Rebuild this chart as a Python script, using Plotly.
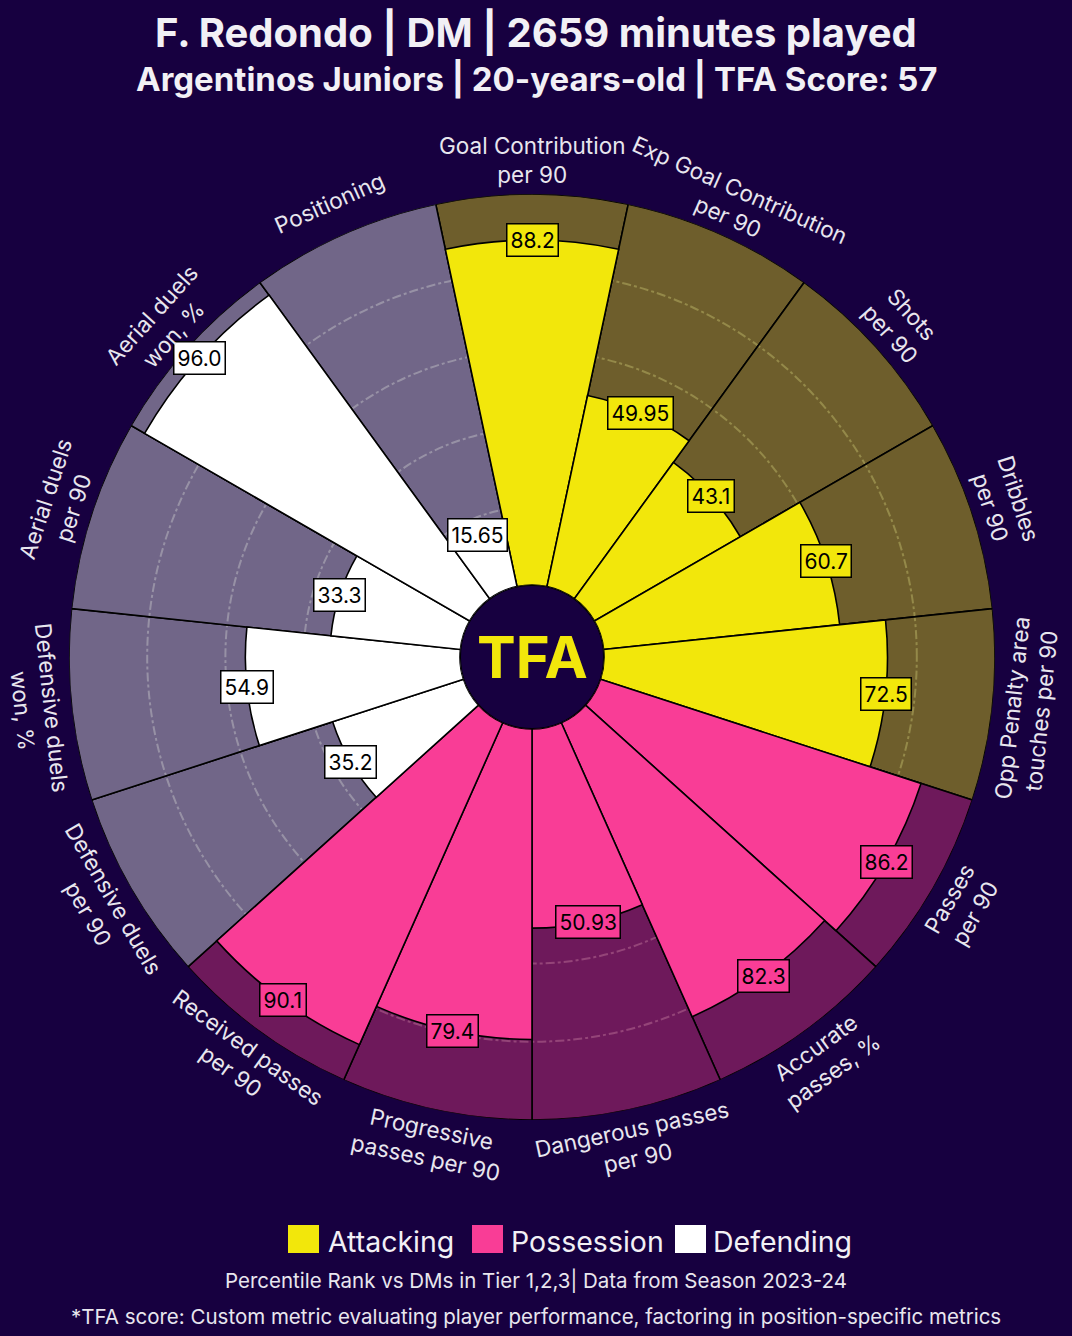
import math
import plotly.graph_objects as go

# ---------------- data ----------------
params = ["Goal Contribution per 90", "Exp Goal Contribution per 90", "Shots per 90",
          "Dribbles per 90", "Opp Penalty area touches per 90", "Passes per 90",
          "Accurate passes, %", "Dangerous passes per 90", "Progressive passes per 90",
          "Received passes per 90", "Defensive duels per 90", "Defensive duels won, %",
          "Aerial duels per 90", "Aerial duels won, %", "Positioning"]
display_labels = ["Goal Contribution<br>per 90", "Exp Goal Contribution<br>per 90", "Shots<br>per 90",
                  "Dribbles<br>per 90", "Opp Penalty area<br>touches per 90", "Passes<br>per 90",
                  "Accurate<br>passes, %", "Dangerous passes<br>per 90", "Progressive<br>passes per 90",
                  "Received passes<br>per 90", "Defensive duels<br>per 90", "Defensive duels<br>won, %",
                  "Aerial duels<br>per 90", "Aerial duels<br>won, %", "Positioning"]
values = [88.2, 49.95, 43.1, 60.7, 72.5, 86.2, 82.3, 50.93, 79.4, 90.1, 35.2, 54.9, 33.3, 96.0, 15.65]
value_labels = ["88.2", "49.95", "43.1", "60.7", "72.5", "86.2", "82.3", "50.93", "79.4", "90.1",
                "35.2", "54.9", "33.3", "96.0", "15.65"]
groups = ["Attacking"] * 5 + ["Possession"] * 5 + ["Defending"] * 5
group_names = ["Attacking", "Possession", "Defending"]
max_value = 100

# ---------------- style ----------------
W, H = 1072, 1336
BG = "#170040"
bar_colors = {"Attacking": "#f2e70b", "Possession": "#f93d96", "Defending": "#ffffff"}
# background slices: semi-transparent so the dash-dot grid shows through faintly
slice_colors = {"Attacking": "rgba(135,121,38,0.78)",
                "Possession": "rgba(135,32,99,0.78)",
                "Defending": "rgba(138,131,156,0.78)"}

cx_px, cy_px, R_px = 532, 657, 463
hole_px = 72
hole = hole_px / R_px

dom_x = [(cx_px - R_px) / W, (cx_px + R_px) / W]
dom_y = [1 - (cy_px + R_px) / H, 1 - (cy_px - R_px) / H]

FONT = "Inter"

fig = go.Figure()

# background slices
for g in group_names:
    idx = [i for i, gg in enumerate(groups) if gg == g]
    fig.add_trace(go.Barpolar(
        r=[max_value] * len(idx), theta=[params[i] for i in idx],
        marker=dict(color=slice_colors[g], line=dict(color="black", width=1.6)),
        showlegend=False, hoverinfo="skip"))

# value bars
for g in group_names:
    idx = [i for i, gg in enumerate(groups) if gg == g]
    fig.add_trace(go.Barpolar(
        r=[values[i] for i in idx], theta=[params[i] for i in idx], name=g,
        marker=dict(color=bar_colors[g], line=dict(color="black", width=1.6)),
        showlegend=False))

n = len(params)
step = 360 / n

def to_paper(r_px, ang):
    a = math.radians(ang)
    x = cx_px + r_px * math.sin(a)
    y = cy_px - r_px * math.cos(a)
    return x / W, 1 - y / H

annotations = []
# value boxes
for i, (v, t, g) in enumerate(zip(values, value_labels, groups)):
    r = hole_px + v / max_value * (R_px - hole_px)
    x, y = to_paper(r, i * step)
    annotations.append(dict(x=x, y=y, xref="paper", yref="paper", text=t, showarrow=False,
                            font=dict(family=FONT, size=21, color="black"),
                            bgcolor=bar_colors[g], bordercolor="black", borderwidth=1.5,
                            borderpad=3, xanchor="center", yanchor="middle"))
# parameter labels
for i, lab in enumerate(display_labels):
    ang = i * step
    x, y = to_paper(R_px + 34, ang)
    if 90 < ang < 270:
        ta = ang - 180
    elif ang >= 270:
        ta = ang - 360
    else:
        ta = ang
    annotations.append(dict(x=x, y=y, xref="paper", yref="paper", text=lab, showarrow=False,
                            textangle=ta, font=dict(family=FONT, size=22.5, color="#e8e6ee"),
                            xanchor="center", yanchor="middle"))

# center logo
annotations.append(dict(x=cx_px / W, y=1 - cy_px / H, xref="paper", yref="paper", text="<b>TFA</b>",
                        showarrow=False, font=dict(family=FONT, size=58, color="#f2e70b"),
                        xanchor="center", yanchor="middle"))

# titles
annotations.append(dict(x=0.5, y=1 - 33 / H, xref="paper", yref="paper",
                        text="<b>F. Redondo | DM | 2659 minutes played</b>", showarrow=False,
                        font=dict(family=FONT, size=40, color="#f2f0f5"), xanchor="center", yanchor="middle"))
annotations.append(dict(x=0.5, y=1 - 79 / H, xref="paper", yref="paper",
                        text="<b>Argentinos Juniors | 20-years-old | TFA Score: 57</b>", showarrow=False,
                        font=dict(family=FONT, size=33, color="#f2f0f5"), xanchor="center", yanchor="middle"))

# legend
legend_items = [("Attacking", 288, 326), ("Possession", 472, 509), ("Defending", 675, 711)]
shapes = []
for name, sx, tx in legend_items:
    shapes.append(dict(type="rect", xref="paper", yref="paper", x0=sx / W, x1=(sx + 31) / W,
                       y0=1 - 1253 / H, y1=1 - 1225 / H, fillcolor=bar_colors[name], line=dict(width=0)))
    annotations.append(dict(x=tx / W, y=1 - 1241 / H, xref="paper", yref="paper", text=name,
                            showarrow=False, font=dict(family=FONT, size=28.5, color="#f2f0f5"),
                            xanchor="left", yanchor="middle"))

annotations.append(dict(x=0.5, y=1 - 1280 / H, xref="paper", yref="paper",
                        text="Percentile Rank vs DMs in Tier 1,2,3| Data from Season 2023-24",
                        showarrow=False, font=dict(family=FONT, size=20.5, color="#e8e6ee"),
                        xanchor="center", yanchor="middle"))
annotations.append(dict(x=0.5, y=1 - 1316 / H, xref="paper", yref="paper",
                        text="*TFA score: Custom metric evaluating player performance, factoring in position-specific metrics",
                        showarrow=False, font=dict(family=FONT, size=20.5, color="#e8e6ee"),
                        xanchor="center", yanchor="middle"))

# center circle outline
shapes.append(dict(type="circle", xref="paper", yref="paper",
                   x0=(cx_px - hole_px) / W, x1=(cx_px + hole_px) / W,
                   y0=1 - (cy_px + hole_px) / H, y1=1 - (cy_px - hole_px) / H,
                   fillcolor=BG, line=dict(color="black", width=2), layer="below"))

fig.update_layout(
    width=W, height=H, paper_bgcolor=BG, plot_bgcolor=BG,
    margin=dict(l=0, r=0, t=0, b=0), showlegend=False,
    polar=dict(
        domain=dict(x=dom_x, y=dom_y), hole=hole, bgcolor=BG, bargap=0, barmode="overlay",
        radialaxis=dict(range=[0, max_value], tickvals=[20, 40, 60, 80], showticklabels=False,
                        ticks="", showline=False, gridcolor="#c4c4c4", gridwidth=1.5,
                        griddash="dashdot"),
        angularaxis=dict(categoryorder="array", categoryarray=params, rotation=90,
                         direction="clockwise", showgrid=False, showticklabels=False, ticks="",
                         showline=False),
    ),
    annotations=annotations, shapes=shapes,
)

fig.write_html("out.html", config={"displayModeBar": False},
               post_script="document.body.style.margin='0';document.body.style.background='" + BG + "';")
